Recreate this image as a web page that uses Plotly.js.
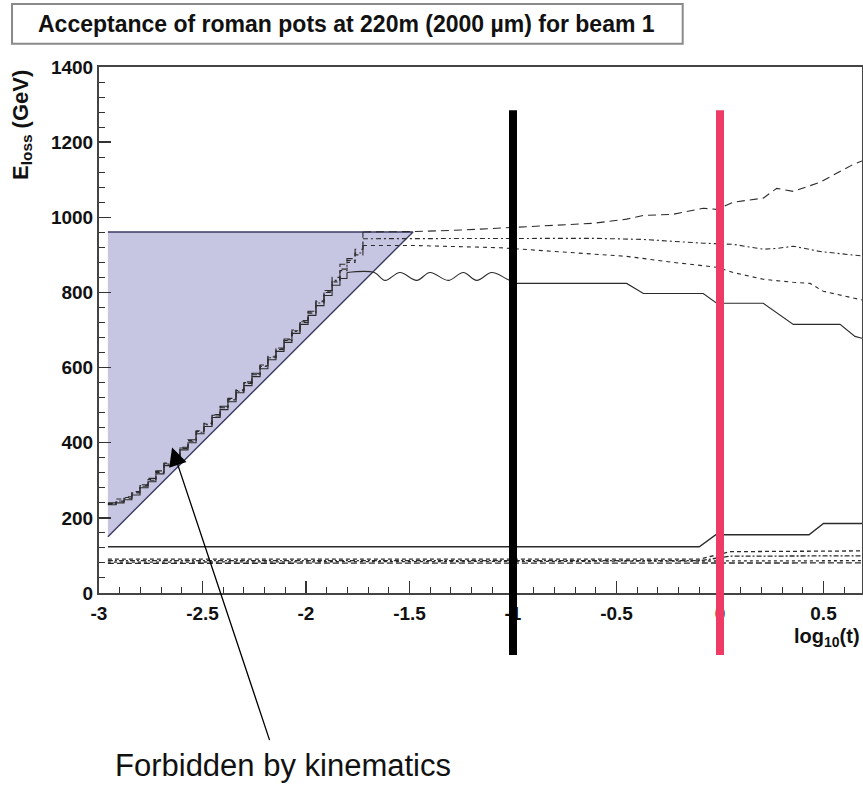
<!DOCTYPE html>
<html>
<head>
<meta charset="utf-8">
<script src="https://cdn.plot.ly/plotly-3.0.1.min.js"></script>
<style>html,body{margin:0;padding:0;background:#fff;}#chart{width:863px;height:806px;}</style>
</head>
<body>
<div id="chart"></div>
<script>
// ---- data (log10(t) vs E_loss in GeV) ----
const triX = [-2.957, -1.483, -2.957];
const triE = [961, 961, 150];

const stairX = [-2.957,-2.918,-2.879,-2.841,-2.802,-2.763,-2.725,-2.686,-2.647,-2.609,-2.570,-2.531,-2.493,-2.454,-2.415,-2.377,-2.338,-2.300,-2.261,-2.222,-2.184,-2.145,-2.106,-2.068,-2.029,-1.990,-1.952,-1.913,-1.874,-1.836,-1.802,-1.763,-1.725];

const solidStairE = [235,240,248,261,280,296,317,339,357,381,400,424,443,467,488,509,533,552,576,597,621,643,667,691,715,739,765,792,819,837,853];
const solidWaveX = [-1.802,-1.670,-1.618,-1.546,-1.465,-1.401,-1.313,-1.240,-1.175,-1.103,-1.030,-0.985];
const solidWaveE = [853,853,832,853,832,853,832,853,832,853,836,824];
const solidRightX = [-0.985,-0.451,-0.370,-0.081,-0.016,0.209,0.354,0.580,0.652,0.686];
const solidRightE = [824,824,797,797,771,771,715,715,683,678];

const dashAStairE = [240,245,256,270,288,305,325,346,366,388,408,432,452,475,497,518,541,562,585,607,630,652,676,700,725,750,778,805,840,875,890,915,961];
const dashARightX = [-1.725,-1.483,-1.250,-1.063,-0.821,-0.612,-0.451,-0.370,-0.226,-0.081,-0.016,0.064,0.209,0.274,0.354,0.483,0.644,0.686];
const dashARightE = [961,962,966,971,979,984,995,1005,1008,1024,1021,1040,1051,1077,1069,1093,1141,1150];

const dashBStairE = [238,250,252,266,284,300,321,343,362,385,404,428,448,471,493,514,537,558,581,603,626,648,672,696,720,745,772,800,832,862,885,905,943];
const dashBRightX = [-1.725,-1.483,-1.063,-0.612,-0.370,-0.081,0.064,0.209,0.274,0.354,0.483,0.644,0.686];
const dashBRightE = [943,943,944,944,941,931,928,915,917,923,909,899,897];

const dashCStairE = [236,243,254,268,286,302,323,344,364,386,406,430,450,473,495,516,539,560,583,605,628,650,674,698,722,748,775,802,828,858,880,900,925];
const dashCRightX = [-1.725,-1.483,-1.063,-0.741,-0.451,-0.226,-0.016,0.064,0.209,0.354,0.435,0.499,0.644,0.686];
const dashCRightE = [925,925,919,907,896,880,867,853,835,827,824,803,784,780];

const botSolidX = [-2.957,-0.100,-0.020,0.430,0.500,0.686];
const botSolidE = [123,123,155,155,185,185];
const botAX = [-2.957,-0.100,0.050,0.686];
const botAE = [90,90,110,112];
const botBX = [-2.957,-0.100,0.050,0.686];
const botBE = [86,86,98,99];
const botCX = [-2.957,0.686];
const botCE = [82,86];
const botDX = [-2.957,0.686];
const botDE = [79,80];

const xTickVals = [-3,-2.5,-2,-1.5,-1,-0.5,0,0.5];
const xTickText = ['-3','-2.5','-2','-1.5','-1','-0.5','0','0.5'];
const yTickVals = [0,200,400,600,800,1000,1200,1400];
const yTickText = ['0','200','400','600','800','1000','1200','1400'];

const cutBlackX = -1.0;
const cutRedX = 0.0;
const arrowTip = {x: -2.647, E: 387};

// ---- traces ----
const lc = '#2b2b2b';
function ln(x, y, dash, shape, w) {
  return {x: x, y: y, type: 'scatter', mode: 'lines', hoverinfo: 'skip', showlegend: false,
          line: {color: lc, width: w || 1.1, dash: dash, shape: shape || 'linear', smoothing: 1}};
}
const stairXs = stairX.slice(0, solidStairE.length);
const traces = [
  {x: triX, y: triE, type: 'scatter', mode: 'lines', fill: 'toself', fillcolor: '#c6c6e3',
   line: {color: '#3a3a66', width: 1.4}, hoverinfo: 'skip', showlegend: false},
  ln(stairXs, solidStairE, 'solid', 'hv'),
  ln(solidWaveX, solidWaveE, 'solid', 'spline'),
  ln(solidRightX, solidRightE, 'solid'),
  ln(stairX, dashAStairE, '8px,5px', 'hv'),
  ln(dashARightX, dashARightE, '8px,5px'),
  ln(stairX, dashBStairE, '5px,3px,2px,3px', 'hv'),
  ln(dashBRightX, dashBRightE, '5px,3px,2px,3px'),
  ln(stairX, dashCStairE, '4px,4px', 'hv'),
  ln(dashCRightX, dashCRightE, '4px,4px'),
  ln(botSolidX, botSolidE, 'solid', 'linear', 1.4),
  ln(botAX, botAE, '4px,3px', 'linear', 1.3),
  ln(botBX, botBE, '5px,2px,2px,2px', 'linear', 1.3),
  ln(botCX, botCE, '3px,3px', 'linear', 1.3),
  ln(botDX, botDE, '6px,3px', 'linear', 1.3)
];

const tickFont = {family: 'Liberation Sans, Arial, sans-serif', size: 19, color: '#111', weight: 'bold'};

const layout = {
  width: 863, height: 806, autosize: false,
  margin: {l: 99, r: 1, t: 67, b: 213},
  paper_bgcolor: '#fff', plot_bgcolor: '#fff',
  xaxis: {
    range: [-3, 0.686], tickmode: 'array', tickvals: xTickVals, ticktext: xTickText,
    ticks: 'inside', ticklen: 12, tickwidth: 1.3, tickcolor: '#333',
    minor: {tick0: -3, dtick: 0.1, ticks: 'inside', ticklen: 6, tickwidth: 1, tickcolor: '#333'},
    showline: true, linecolor: '#444', linewidth: 2, mirror: true,
    showgrid: false, zeroline: false, tickfont: tickFont, ticklabelstandoff: 2
  },
  yaxis: {
    range: [0, 1400], tickmode: 'array', tickvals: yTickVals, ticktext: yTickText,
    ticks: 'inside', ticklen: 12, tickwidth: 1.3, tickcolor: '#333',
    minor: {tick0: 0, dtick: 40, ticks: 'inside', ticklen: 6, tickwidth: 1, tickcolor: '#333'},
    showline: true, linecolor: '#444', linewidth: 2, mirror: true,
    showgrid: false, zeroline: false, tickfont: tickFont
  },
  shapes: [
    {type: 'rect', xref: 'paper', yref: 'paper', x0: -0.114, x1: 0.765, y0: 1.044, y1: 1.120,
     line: {color: '#8a8a8a', width: 2}, fillcolor: '#fff', layer: 'above'},
    {type: 'line', xref: 'x', yref: 'paper', x0: cutBlackX, x1: cutBlackX, y0: -0.118, y1: 0.918,
     line: {color: '#000', width: 8}, layer: 'above'},
    {type: 'line', xref: 'x', yref: 'paper', x0: cutRedX, x1: cutRedX, y0: -0.118, y1: 0.918,
     line: {color: '#f03a66', width: 8}, layer: 'above'}
  ],
  annotations: [
    {xref: 'paper', yref: 'paper', x: 0.325, y: 1.082, xanchor: 'center', yanchor: 'middle', showarrow: false,
     text: 'Acceptance of roman pots at 220m (2000 \u00b5m) for beam 1',
     font: {family: 'Liberation Sans, Arial, sans-serif', size: 23, color: '#111', weight: 'bold'}},
    {xref: 'paper', yref: 'paper', x: -0.101, y: 0.998, xanchor: 'center', yanchor: 'top', showarrow: false,
     textangle: -90, text: 'E<sub>loss</sub> (GeV)',
     font: {family: 'Liberation Sans, Arial, sans-serif', size: 22, color: '#111', weight: 'bold'}},
    {xref: 'paper', yref: 'paper', x: 1.0, y: -0.084, xanchor: 'right', yanchor: 'middle', showarrow: false,
     text: 'log<sub>10</sub>(t)',
     font: {family: 'Liberation Sans, Arial, sans-serif', size: 20, color: '#111', weight: 'bold'}},
    {xref: 'x', yref: 'y', x: arrowTip.x, y: arrowTip.E, axref: 'pixel', ayref: 'pixel', ax: 98, ay: 294,
     text: '', showarrow: true, arrowhead: 2, arrowsize: 2.8, arrowwidth: 1.3, arrowcolor: '#000'},
    {xref: 'paper', yref: 'paper', x: 0.241, y: -0.327, xanchor: 'center', yanchor: 'middle', showarrow: false,
     text: 'Forbidden by kinematics',
     font: {family: 'Liberation Sans, Arial, sans-serif', size: 31, color: '#111'}}
  ]
};

Plotly.newPlot('chart', traces, layout, {displayModeBar: false, staticPlot: true});
</script>
</body>
</html>
